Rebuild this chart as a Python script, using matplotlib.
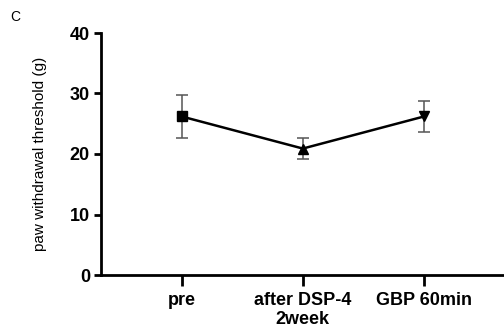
import matplotlib
matplotlib.use("Agg")
import matplotlib.pyplot as plt

categories = ["pre", "after DSP-4\n2week", "GBP 60min"]
means = [26.2, 20.9, 26.2]
err_low = [3.6, 1.7, 2.6]
err_high = [3.6, 1.7, 2.5]
markers = ["s", "^", "v"]
yticks = [0, 10, 20, 30, 40]

plt.rcParams['font.family'] = ['Liberation Sans', 'DejaVu Sans']

fig = plt.figure(figsize=(5.04, 3.34), dpi=100)
ax = fig.add_axes([101/504, 1-275/334, 1-101/504, (275-33)/334])

x = [1, 2, 3]
ax.errorbar(x, means, yerr=[err_low, err_high], fmt='none', ecolor='#555555',
            elinewidth=1.1, capsize=4, capthick=1.1, zorder=2)
ax.plot(x, means, color='black', lw=1.8, zorder=3)
for xi, m, mk in zip(x, means, markers):
    ax.plot([xi], [m], marker=mk, color='black', markersize=7.5, linestyle='none', zorder=4)

ax.set_xlim(1/3, 3 + 80/121)
ax.set_ylim(0, 40)
ax.set_yticks(yticks)
ax.set_yticklabels([str(v) for v in yticks], fontweight='bold', fontsize=13)
ax.set_xticks(x)
ax.set_xticklabels(categories, fontweight='bold', fontsize=13, linespacing=1.15)
for s in ['top', 'right']:
    ax.spines[s].set_visible(False)
for s in ['left', 'bottom']:
    ax.spines[s].set_linewidth(2)
ax.tick_params(axis='y', width=2, length=5, pad=3)
ax.tick_params(axis='x', width=2, length=8, pad=4)
ax.set_ylabel("paw withdrawal threshold (g)", fontsize=11, labelpad=8)
ax.yaxis.set_label_coords(-54/403, 0.5)
fig.text(10/504, 1-17/334, "C", fontsize=10, va='center', ha='left')

fig.savefig("out.png", dpi=100)
